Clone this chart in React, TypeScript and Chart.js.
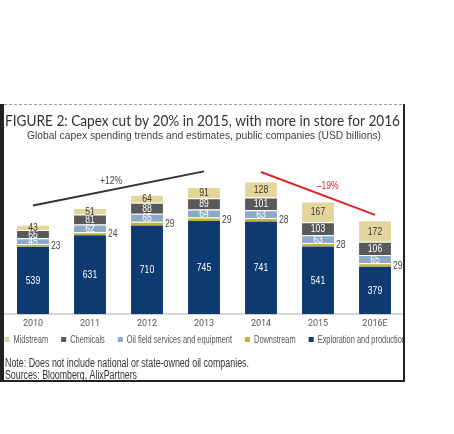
import React, { useEffect, useRef } from "react";
import { Chart, registerables } from "chart.js";

Chart.register(...registerables);

const years = ["2010", "2011", "2012", "2013", "2014", "2015", "2016E"];
const explorationProduction = [539, 631, 710, 745, 741, 541, 379];
const downstream = [23, 24, 29, 29, 28, 28, 29];
const oilFieldServices = [45, 62, 65, 64, 63, 63, 65];
const chemicals = [66, 81, 88, 89, 101, 103, 106];
const midstream = [43, 51, 64, 91, 128, 167, 172];

// trend annotation lines (values in USD billions, on category positions)
const growthTrend = [870, null, null, 1143, null, null, null];
const declineTrend = [null, null, null, null, 1138, null, 795];
const growthLabel = { text: "+12%", index: 1.37, value: 1065 };
const declineLabel = { text: "\u201319%", index: 5.17, value: 1028 };

const titleText = "FIGURE 2: Capex cut by 20% in 2015, with more in store for 2016";
const subtitleText =
  "Global capex spending trends and estimates, public companies (USD billions)";
const noteText = "Note: Does not include national or state-owned oil companies.";
const sourceText = "Sources: Bloomberg, AlixPartners";

const NARROW = "'Liberation Sans', Arial, sans-serif";
const CONDENSE = 0.78;

const C_EP = "#0d3a70";
const C_DOWN = "#c8b232";
const C_OFS = "#8ca9c7";
const C_CHEM = "#58595b";
const C_MID = "#e3d59c";

function fitText(
  ctx: CanvasRenderingContext2D,
  text: string,
  x: number,
  y: number,
  width: number,
  align: "left" | "center"
) {
  const w = ctx.measureText(text).width;
  const s = width / w;
  ctx.save();
  ctx.translate(x, y);
  ctx.scale(s, 1);
  ctx.textAlign = align;
  ctx.fillText(text, 0, 0);
  ctx.restore();
}

function narrowText(
  ctx: CanvasRenderingContext2D,
  text: string,
  x: number,
  y: number,
  align: "left" | "center"
) {
  ctx.save();
  ctx.translate(x, y);
  ctx.scale(CONDENSE, 1);
  ctx.textAlign = align;
  ctx.fillText(text, 0, 0);
  ctx.restore();
}

const decorPlugin = {
  id: "decor",
  beforeDraw(chart: any) {
    const ctx = chart.ctx as CanvasRenderingContext2D;
    ctx.save();
    ctx.fillStyle = "#ffffff";
    ctx.fillRect(0, 0, chart.width, chart.height);
    ctx.restore();
  },
  afterDraw(chart: any) {
    const ctx = chart.ctx as CanvasRenderingContext2D;
    ctx.save();
    // legend (reverse dataset order, bar datasets only)
    const items = chart.data.datasets
      .map((ds: any, i: number) => ({ ds, i }))
      .filter((o: any) => o.i < 5)
      .reverse();
    ctx.font = `11px ${NARROW}`;
    ctx.textBaseline = "middle";
    const box = 5;
    const gapBoxText = 4;
    const gapItems = 13;
    const startX = 4.5;
    const endX = 406;
    const textWidths = items.map((o: any) => ctx.measureText(o.ds.label).width);
    const sumText = textWidths.reduce((a: number, b: number) => a + b, 0);
    const k =
      (endX - startX - items.length * (box + gapBoxText) - (items.length - 1) * gapItems) /
      sumText;
    let x = startX;
    const ly = 339.5;
    items.forEach((o: any, j: number) => {
      ctx.fillStyle = o.ds.backgroundColor;
      ctx.fillRect(x, ly - 2.5, box, box);
      x += box + gapBoxText;
      ctx.fillStyle = "#555555";
      ctx.save();
      ctx.translate(x, ly);
      ctx.scale(k, 1);
      ctx.textAlign = "left";
      ctx.fillText(o.ds.label, 0, 0);
      ctx.restore();
      x += textWidths[j] * k + gapItems;
    });

    // frame
    ctx.fillStyle = "#ffffff";
    ctx.fillRect(405, 300, 49, 60);
    ctx.strokeStyle = "#9a9a9a";
    ctx.lineWidth = 1;
    ctx.setLineDash([3, 2]);
    ctx.beginPath();
    ctx.moveTo(4, 104.5);
    ctx.lineTo(404, 104.5);
    ctx.stroke();
    ctx.setLineDash([]);
    ctx.fillStyle = "#222222";
    ctx.fillRect(0, 104, 4, 278);
    ctx.fillRect(403, 104, 2, 278);
    ctx.fillRect(0, 380, 405, 2);

    // title
    ctx.textBaseline = "alphabetic";
    ctx.fillStyle = "#333333";
    ctx.font = "16px Lato, 'Open Sans', sans-serif";
    fitText(ctx, titleText, 5, 126, 395, "left");

    // subtitle
    ctx.fillStyle = "#404040";
    ctx.font = `10.5px ${NARROW}`;
    fitText(ctx, subtitleText, 204, 138.5, 354, "center");

    // notes
    ctx.fillStyle = "#333333";
    ctx.font = `12px ${NARROW}`;
    fitText(ctx, noteText, 5, 367, 244, "left");
    fitText(ctx, sourceText, 5, 379, 132, "left");
    ctx.restore();
  },
};

const labelPlugin = {
  id: "segLabels",
  afterDatasetsDraw(chart: any) {
    const ctx = chart.ctx as CanvasRenderingContext2D;
    ctx.save();
    ctx.font = `11px ${NARROW}`;
    ctx.textBaseline = "middle";
    const colors = ["#ffffff", "#444444", "#ffffff", "#ffffff", "#3a3a3a"];
    for (let d = 0; d < 5; d++) {
      const meta = chart.getDatasetMeta(d);
      const data = chart.data.datasets[d].data as number[];
      meta.data.forEach((el: any, i: number) => {
        const cy = (el.y + el.base) / 2;
        ctx.fillStyle = colors[d];
        if (d === 1) {
          narrowText(ctx, String(data[i]), el.x + el.width / 2 + 2, cy + 0.5, "left");
        } else {
          narrowText(ctx, String(data[i]), el.x, cy + 0.5, "center");
        }
      });
    }
    // trend labels
    const xs = chart.scales.x;
    const ys = chart.scales.y;
    ctx.fillStyle = "#444444";
    narrowText(
      ctx,
      growthLabel.text,
      xs.getPixelForValue(growthLabel.index),
      ys.getPixelForValue(growthLabel.value),
      "center"
    );
    ctx.fillStyle = "#e0242b";
    narrowText(
      ctx,
      declineLabel.text,
      xs.getPixelForValue(declineLabel.index),
      ys.getPixelForValue(declineLabel.value),
      "center"
    );
    ctx.restore();
  },
};

export default function App() {
  const ref = useRef<HTMLCanvasElement | null>(null);
  useEffect(() => {
    if (!ref.current) return;
    const barCommon = {
      type: "bar" as const,
      barPercentage: 0.56,
      categoryPercentage: 1,
      borderColor: "#ffffff",
      borderWidth: { top: 1, bottom: 0, left: 0, right: 0 },
      borderSkipped: false as any,
      stack: "bars",
      order: 2,
    };
    const chart = new Chart(ref.current, {
      type: "bar",
      data: {
        labels: years,
        datasets: [
          { ...barCommon, label: "Exploration and production", data: explorationProduction, backgroundColor: C_EP, borderWidth: 0 },
          { ...barCommon, label: "Downstream", data: downstream, backgroundColor: C_DOWN },
          { ...barCommon, label: "Oil field services and equipment", data: oilFieldServices, backgroundColor: C_OFS },
          { ...barCommon, label: "Chemicals", data: chemicals, backgroundColor: C_CHEM },
          { ...barCommon, label: "Midstream", data: midstream, backgroundColor: C_MID },
          {
            type: "line",
            label: "growth",
            data: growthTrend,
            borderColor: "#333333",
            borderWidth: 2,
            pointRadius: 0,
            spanGaps: true,
            stack: "t1",
            order: 1,
          } as any,
          {
            type: "line",
            label: "decline",
            data: declineTrend,
            borderColor: "#e0242b",
            borderWidth: 2,
            pointRadius: 0,
            spanGaps: true,
            stack: "t2",
            order: 1,
          } as any,
        ],
      },
      options: {
        responsive: false,
        animation: false,
        devicePixelRatio: 1,
        layout: { padding: { left: 4.5, right: 50.5, top: 158, bottom: 101 } },
        scales: {
          x: {
            stacked: true,
            grid: { display: false, drawTicks: false },
            border: { display: true, color: "#d6d6d6", width: 2 },
            ticks: {
              color: "#555555",
              font: { family: "'Liberation Sans Narrow', Roboto, sans-serif", size: 9 },
              padding: 4,
            },
          },
          y: {
            stacked: true,
            display: false,
            min: 0,
            max: 1250,
          },
        },
        plugins: {
          title: { display: false },
          tooltip: { enabled: false },
          legend: { display: false },
        },
      },
      plugins: [decorPlugin, labelPlugin],
    } as any);
    return () => chart.destroy();
  }, []);
  return (
    <div style={{ position: "absolute", left: 0, top: 0, width: 454, height: 434, background: "#fff" }}>
      <canvas ref={ref} width={454} height={434} style={{ display: "block" }} />
    </div>
  );
}
